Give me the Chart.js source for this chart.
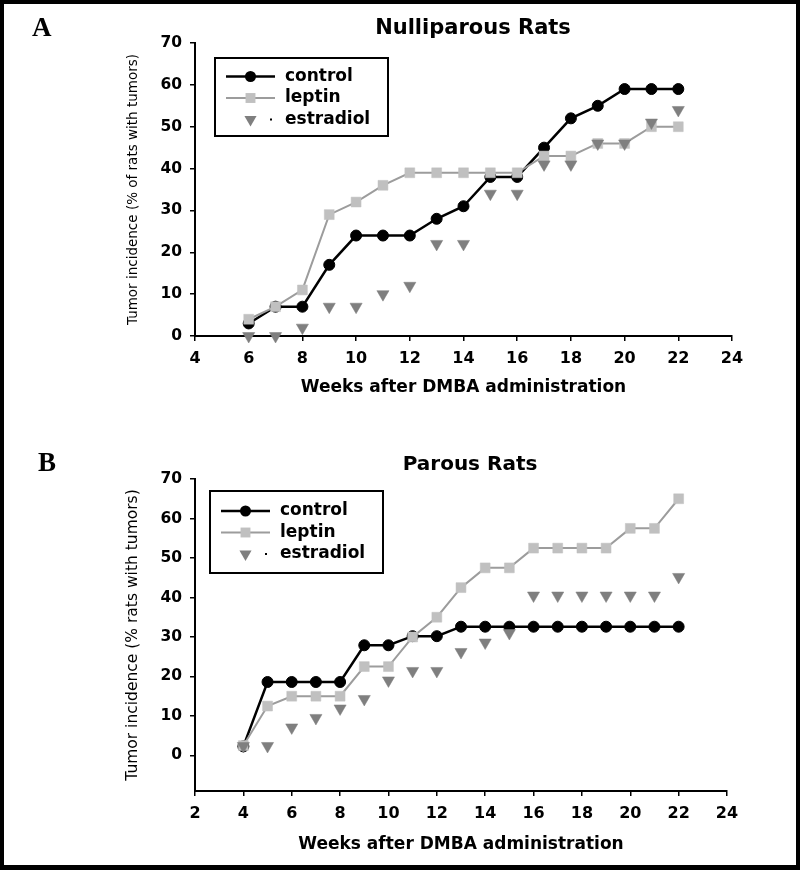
<!DOCTYPE html>
<html><head><meta charset="utf-8">
<script src="https://cdn.jsdelivr.net/npm/chart.js@4.4.1/dist/chart.umd.min.js"></script>
<style>
html,body{margin:0;padding:0;background:#fff;}
#fig{position:relative;width:800px;height:870px;overflow:hidden;background:#fff;}
#frame{position:absolute;left:0;top:0;width:800px;height:870px;box-sizing:border-box;border:4px solid #000;border-bottom-width:5px;pointer-events:none;z-index:5}
.panel{position:absolute;left:0;width:800px;height:435px;}
.letter{position:absolute;font-family:"Liberation Serif","Times New Roman",serif;font-weight:bold;font-size:27px;line-height:1;z-index:4;color:#000}
.ptitle{position:absolute;font-family:"DejaVu Sans",sans-serif;font-weight:bold;line-height:1;text-align:center;white-space:nowrap;color:#000;z-index:4}
</style></head>
<body>
<div id="fig">
  <div class="panel" style="top:0"><canvas id="chartA" width="800" height="435"></canvas></div>
  <div class="panel" style="top:435px"><canvas id="chartB" width="800" height="435"></canvas></div>
  <div class="letter" style="left:32px;top:14px">A</div>
  <div class="letter" style="left:38px;top:449px">B</div>
  <div class="ptitle" style="left:323px;width:300px;top:17px;font-size:21px">Nulliparous Rats</div>
  <div class="ptitle" style="left:320px;width:300px;top:453px;font-size:20px">Parous Rats</div>
  <div id="frame"></div>
</div>
<script>
// ---------- data ----------
const seriesNames = ['control', 'leptin', 'estradiol'];

const weeksA = [6, 7, 8, 9, 10, 11, 12, 13, 14, 15, 16, 17, 18, 19, 20, 21, 22];
const controlA = [3, 7, 7, 17, 24, 24, 24, 28, 31, 38, 38, 45, 52, 55, 59, 59, 59];
const leptinA = [4, 7, 11, 29, 32, 36, 39, 39, 39, 39, 39, 43, 43, 46, 46, 50, 50];
const estradiolA = [0, 0, 2, 7, 7, 10, 12, 22, 22, 34, 34, 41, 41, 46, 46, 51, 54];

const weeksB = [4, 5, 6, 7, 8, 9, 10, 11, 12, 13, 14, 15, 16, 17, 18, 19, 20, 21, 22];
const controlB = [2.3, 18.6, 18.6, 18.6, 18.6, 27.9, 27.9, 30.2, 30.2, 32.6, 32.6, 32.6, 32.6, 32.6, 32.6, 32.6, 32.6, 32.6, 32.6];
const leptinB = [2.5, 12.5, 15, 15, 15, 22.5, 22.5, 30, 35, 42.5, 47.5, 47.5, 52.5, 52.5, 52.5, 52.5, 57.5, 57.5, 65];
const estradiolB = [2.4, 2.4, 7.1, 9.5, 11.9, 14.3, 19.0, 21.4, 21.4, 26.2, 28.6, 31.0, 40.5, 40.5, 40.5, 40.5, 40.5, 40.5, 45.2];

const xTicksA = [4, 6, 8, 10, 12, 14, 16, 18, 20, 22, 24];
const xTicksB = [2, 4, 6, 8, 10, 12, 14, 16, 18, 20, 22, 24];
const yTicks = [0, 10, 20, 30, 40, 50, 60, 70];

const xTitle = 'Weeks after DMBA administration';
const yTitleA = 'Tumor incidence (% of rats with tumors)';
const yTitleB = 'Tumor incidence (% rats with tumors)';

// ---------- helpers ----------
const FONT = '"DejaVu Sans", sans-serif';
const pts = (xs, ys) => xs.map((x, i) => ({ x: x, y: ys[i] }));

function drawMarker(ctx, style, r, rotDeg, x, y) {
  ctx.beginPath();
  if (style === 'circle') {
    ctx.arc(x, y, r, 0, Math.PI * 2);
  } else if (style === 'rect') {
    const s = r * Math.SQRT1_2;
    ctx.rect(x - s, y - s, 2 * s, 2 * s);
  } else if (style === 'triangle') {
    let a = (rotDeg || 0) * Math.PI / 180;
    ctx.moveTo(x + Math.sin(a) * r, y - Math.cos(a) * r);
    a += 2 * Math.PI / 3;
    ctx.lineTo(x + Math.sin(a) * r, y - Math.cos(a) * r);
    a += 2 * Math.PI / 3;
    ctx.lineTo(x + Math.sin(a) * r, y - Math.cos(a) * r);
    ctx.closePath();
  }
  ctx.fill();
}

const boxLegend = {
  id: 'boxLegend',
  afterDraw(chart, args, o) {
    const ctx = chart.ctx;
    ctx.save();
    ctx.lineWidth = 2;
    ctx.strokeStyle = '#000';
    ctx.strokeRect(o.left, o.top, o.width, o.height);
    ctx.font = 'bold 17px ' + FONT;
    ctx.textBaseline = 'middle';
    ctx.textAlign = 'left';
    seriesNames.forEach((name, i) => {
      const ds = chart.data.datasets.find(d => d.label === name);
      const y = o.top + o.firstRow + i * o.rowGap;
      const x1 = o.left + 11, x2 = o.left + 60, xm = (x1 + x2) / 2;
      if (ds.showLine !== false) {
        ctx.strokeStyle = ds.borderColor;
        ctx.lineWidth = ds.borderWidth;
        ctx.beginPath(); ctx.moveTo(x1, y); ctx.lineTo(x2, y); ctx.stroke();
      } else {
        ctx.fillStyle = '#000';
        ctx.fillRect(x2 - 5, y - 1, 2, 2);
      }
      ctx.fillStyle = ds.pointBackgroundColor;
      drawMarker(ctx, ds.pointStyle, ds.pointRadius, ds.pointRotation, xm, y);
      ctx.fillStyle = '#000';
      ctx.fillText(name, o.left + 70, y);
    });
    ctx.restore();
  }
};

function makeDatasets(weeks, c, l, e) {
  return [
    { label: 'control', data: pts(weeks, c), borderColor: '#000000', borderWidth: 2.5,
      pointStyle: 'circle', pointRadius: 5.5, pointBackgroundColor: '#000000', pointBorderColor: '#000000',
      pointBorderWidth: 1, order: 3, clip: false },
    { label: 'leptin', data: pts(weeks, l), borderColor: '#9c9c9c', borderWidth: 2,
      pointStyle: 'rect', pointRadius: 7, pointBackgroundColor: '#c0c0c0', pointBorderColor: '#c0c0c0',
      pointBorderWidth: 0.5, order: 2, clip: false },
    { label: 'estradiol', data: pts(weeks, e), showLine: false, borderColor: '#7f7f7f', borderWidth: 0,
      pointStyle: 'triangle', pointRotation: 180, pointRadius: 7, pointBackgroundColor: '#7f7f7f',
      pointBorderColor: '#7f7f7f', pointBorderWidth: 0.5, order: 1, clip: false }
  ];
}

function makeOptions(cfg) {
  return {
    responsive: false, animation: false, devicePixelRatio: 1,
    layout: { padding: { left: 120, top: cfg.top, right: cfg.right, bottom: 0 } },
    elements: { line: { tension: 0 } },
    plugins: {
      legend: { display: false }, tooltip: { enabled: false }, title: { display: false },
      boxLegend: cfg.legend
    },
    scales: {
      x: {
        type: 'linear', min: cfg.xMin, max: 24,
        afterBuildTicks: s => { s.ticks = cfg.xTicks.map(v => ({ value: v })); },
        afterFit: s => { s.height = cfg.xHeight; },
        grid: { display: true, drawOnChartArea: false, drawTicks: true, tickLength: 5, color: '#000', lineWidth: 1.5 },
        border: { display: true, color: '#000', width: 2 },
        ticks: { color: '#000', font: { family: FONT, size: 16, weight: 'bold' }, padding: 8, maxRotation: 0, autoSkip: false },
        title: { display: true, text: xTitle, color: '#000', font: { family: FONT, size: 17, weight: 'bold' },
                 padding: { top: 0, bottom: cfg.xTitlePad } }
      },
      y: {
        type: 'linear', min: cfg.yMin, max: 70,
        afterBuildTicks: s => { s.ticks = yTicks.map(v => ({ value: v })); },
        afterFit: s => { s.width = 75; },
        grid: { display: true, drawOnChartArea: false, drawTicks: true, tickLength: 5, color: '#000', lineWidth: 1.5 },
        border: { display: true, color: '#000', width: 2 },
        ticks: { color: '#000', font: { family: FONT, size: 15.5, weight: 'bold' }, padding: 8 },
        title: { display: true, text: cfg.yTitle, color: '#000', font: { family: FONT, size: cfg.yTitleSize, weight: 'normal' },
                 padding: { top: cfg.yTitlePad, bottom: 0 } }
      }
    }
  };
}

new Chart(document.getElementById('chartA'), {
  type: 'line',
  data: { datasets: makeDatasets(weeksA, controlA, leptinA, estradiolA) },
  options: makeOptions({
    top: 43, right: 68, xMin: 4, xTicks: xTicksA, xHeight: 99, xTitlePad: 36.8, yMin: 0,
    yTitle: yTitleA, yTitleSize: 13.5, yTitlePad: 5,
    legend: { left: 215, top: 58, width: 173, height: 78, firstRow: 18.5, rowGap: 21.5 }
  }),
  plugins: [boxLegend]
});

new Chart(document.getElementById('chartB'), {
  type: 'line',
  data: { datasets: makeDatasets(weeksB, controlB, leptinB, estradiolB) },
  options: makeOptions({
    top: 44, right: 73, xMin: 2, xTicks: xTicksB, xHeight: 79, xTitlePad: 14.8, yMin: -9,
    yTitle: yTitleB, yTitleSize: 15.5, yTitlePad: 3.7,
    legend: { left: 210, top: 56, width: 173, height: 82, firstRow: 20, rowGap: 21.5 }
  }),
  plugins: [boxLegend]
});
</script>
</body></html>
